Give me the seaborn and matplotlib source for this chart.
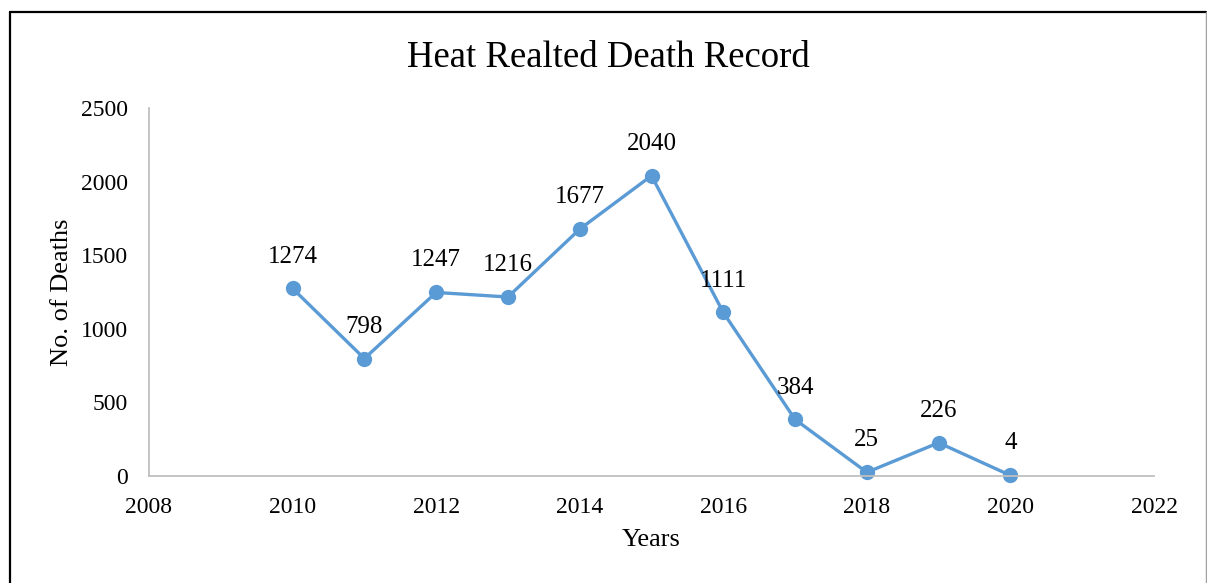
import matplotlib
matplotlib.use("Agg")
import matplotlib.pyplot as plt
import seaborn as sns
import pandas as pd
from matplotlib.lines import Line2D

years = [2010, 2011, 2012, 2013, 2014, 2015, 2016, 2017, 2018, 2019, 2020]
deaths = [1274, 798, 1247, 1216, 1677, 2040, 1111, 384, 25, 226, 4]
x_ticks = [2008, 2010, 2012, 2014, 2016, 2018, 2020, 2022]
y_ticks = [0, 500, 1000, 1500, 2000, 2500]

sns.set_theme(style="white")
plt.rcParams['font.family'] = ['Liberation Serif', 'DejaVu Serif']

df = pd.DataFrame({"Years": years, "Deaths": deaths})

fig = plt.figure(figsize=(12.07, 5.83), dpi=100)
ax = fig.add_axes([149/1207, 1-476/583, (1154-149)/1207, (476-108)/583])

blue = "#5B9BD5"
sns.lineplot(data=df, x="Years", y="Deaths", ax=ax, color=blue, linewidth=2.4,
             marker="o", markersize=11, markeredgewidth=0, markeredgecolor=blue)
for ln in ax.lines:
    ln.set_clip_on(False)

for xv, yv in zip(years, deaths):
    ax.annotate(str(yv), (xv, yv), xytext=(0, 23), textcoords="offset points",
                ha="center", va="center", fontsize=18, color="black")

ax.set_xlim(2008, 2022)
ax.set_ylim(0, 2500)
ax.set_xticks(x_ticks)
ax.set_yticks(y_ticks)
ax.tick_params(axis="both", labelsize=17, colors="black", length=0, pad=15)
ax.set_xlabel("Years", fontsize=19, color="black", labelpad=8)
ax.set_ylabel("No. of Deaths", fontsize=19, color="black", labelpad=6)
for s in ["top", "right"]:
    ax.spines[s].set_visible(False)
for s in ["left", "bottom"]:
    ax.spines[s].set_color("#BFBFBF")
    ax.spines[s].set_linewidth(1.3)
ax.grid(False)

fig.text(608/1207, 1-58/583, "Heat Realted Death Record", ha="center", va="center",
         fontsize=26.5, color="black")

# outer frame
fig.add_artist(Line2D([9.5/1207, 9.5/1207], [0, 1-11.5/583], transform=fig.transFigure,
                      color="black", linewidth=1.6))
fig.add_artist(Line2D([9.5/1207, 1205.5/1207], [1-11.5/583, 1-11.5/583], transform=fig.transFigure,
                      color="black", linewidth=1.6))
fig.add_artist(Line2D([1205.5/1207, 1205.5/1207], [0, 1-11.5/583], transform=fig.transFigure,
                      color="#A0A0A0", linewidth=1.0))

fig.savefig("out.png", dpi=100)
